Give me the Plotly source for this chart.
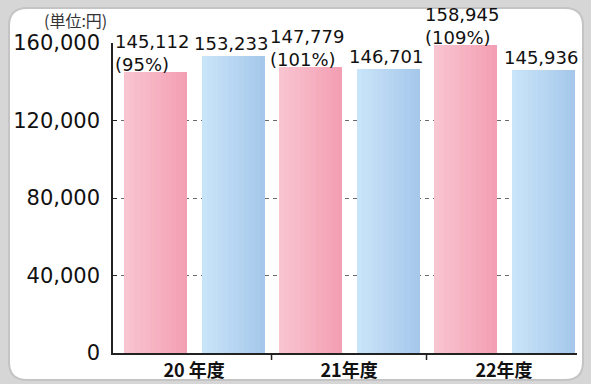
import plotly.graph_objects as go

# Annual cost per person (yen)
categories = ["20 年度", "21年度", "22年度"]
series_a = [145112, 147779, 158945]        # pink bars
series_a_pct = ["95%", "101%", "109%"]
series_b = [153233, 146701, 145936]        # blue bars
y_ticks = [0, 40000, 80000, 120000, 160000]

W, H = 591, 384
L, R, T, B = 113, 14, 43, 31
PW, PH = W - L - R, H - T - B

def px_x(p):
    return (p - L) / PW

def px_y(p):
    return 1 - (p - T) / PH

def mix(c1, c2, t):
    return "rgb(%d,%d,%d)" % tuple(round(a + (b - a) * t) for a, b in zip(c1, c2))

fig = go.Figure()

# Each bar is built from thin vertical slices to give a soft horizontal gradient
BAR_W = 0.406
N_SLICES = 12
slice_w = BAR_W / N_SLICES
pink_l, pink_r = (248, 196, 208), (244, 160, 180)
blue_l, blue_r = (200, 228, 248), (166, 200, 234)

for values, base_off, cl, cr in [
    (series_a, -0.452, pink_l, pink_r),
    (series_b, 0.052, blue_l, blue_r),
]:
    for i in range(N_SLICES):
        t = i / (N_SLICES - 1)
        fig.add_trace(go.Bar(
            x=list(range(len(categories))), y=values,
            width=slice_w * 1.08, offset=base_off + i * slice_w,
            marker=dict(color=mix(cl, cr, t), line=dict(width=0)),
            showlegend=False, hoverinfo="skip",
        ))

label_font = dict(family="DejaVu Sans", size=18, color="#111111")
center = BAR_W / 2
for i, (va, pa, vb) in enumerate(zip(series_a, series_a_pct, series_b)):
    fig.add_annotation(
        x=i - 0.452 + center, y=va, xref="x", yref="y",
        text=f"{va:,}<br>({pa})", showarrow=False, align="left",
        xanchor="center", yanchor="bottom", xshift=-3, yshift=-5,
        font=label_font,
    )
    fig.add_annotation(
        x=i + 0.052 + center, y=vb, xref="x", yref="y",
        text=f"{vb:,}", showarrow=False,
        xanchor="center", yanchor="bottom", xshift=-3, yshift=0,
        font=label_font,
    )

# Unit note
fig.add_annotation(
    xref="paper", yref="paper", x=0, y=1, xanchor="right", yanchor="middle",
    xshift=-4, yshift=23, text="(単位:円)", showarrow=False,
    font=dict(family="Noto Sans CJK JP", size=16, color="#333333"),
)

# White rounded panel on a grey frame
x0, x1, y0, y1, r = 9, 583, 8, 380, 18
rx, ry = r / PW, r / PH
a0, a1, b0, b1 = px_x(x0), px_x(x1), px_y(y0), px_y(y1)
path = (
    f"M {a0 + rx},{b0} L {a1 - rx},{b0} Q {a1},{b0} {a1},{b0 - ry} "
    f"L {a1},{b1 + ry} Q {a1},{b1} {a1 - rx},{b1} "
    f"L {a0 + rx},{b1} Q {a0},{b1} {a0},{b1 + ry} "
    f"L {a0},{b0 - ry} Q {a0},{b0} {a0 + rx},{b0} Z"
)
fig.add_shape(type="path", path=path, xref="paper", yref="paper",
              fillcolor="white", line=dict(color="#c4c4c4", width=2), layer="below")

fig.update_layout(
    width=W, height=H,
    margin=dict(l=L, r=R, t=T, b=B, autoexpand=False),
    paper_bgcolor="#d6d6d6", plot_bgcolor="rgba(0,0,0,0)",
    barmode="overlay", bargap=0,
    showlegend=False,
    xaxis=dict(
        range=[-0.523, 2.471], tickmode="array",
        tickvals=list(range(len(categories))), ticktext=categories,
        showgrid=False, zeroline=False, automargin=False,
        showline=True, linecolor="#222222", linewidth=1.5,
        ticklabelstandoff=1,
        tickfont=dict(family="Noto Sans CJK JP", size=18, color="#111111", weight="bold"),
    ),
    yaxis=dict(
        range=[0, 160000], tickmode="array", tickvals=y_ticks,
        tickformat=",", automargin=False,
        showgrid=True, gridcolor="#6a6a6a", gridwidth=1, griddash="4px,4px",
        zeroline=False, showline=True, linecolor="#222222", linewidth=1.5,
        ticks="inside", ticklen=4, tickcolor="#222222", ticklabelstandoff=7,
        tickfont=dict(family="DejaVu Sans", size=21, color="#111111"),
    ),
)

# Category boundary ticks below the x axis
for xb in [0.5, 1.5]:
    fig.add_shape(type="line", xref="x", yref="paper", x0=xb, x1=xb,
                  y0=0, y1=-7 / PH, line=dict(color="#222222", width=1.5))

fig.write_html("out.html")
